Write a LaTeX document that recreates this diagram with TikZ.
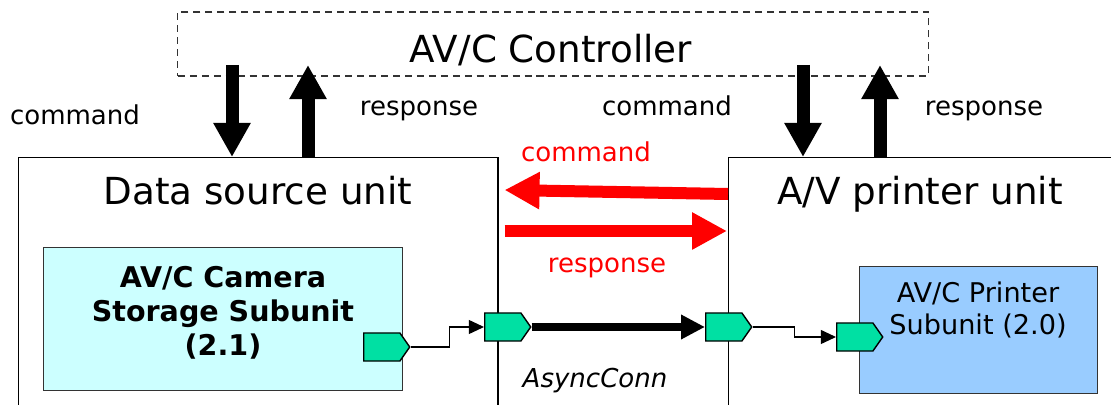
\documentclass[tikz,border=0pt]{standalone}
\usepackage{fontspec}
\setmainfont{DejaVu Sans}
\usetikzlibrary{arrows.meta,positioning,calc,shapes.symbols}

\definecolor{plugfill}{RGB}{0,224,163}
\definecolor{camfill}{RGB}{204,255,255}
\definecolor{prsfill}{RGB}{153,204,255}

\begin{document}
\begin{tikzpicture}[
    x=0.025cm, y=-0.025cm,
    unit/.style={rectangle, draw=black, line width=1pt, fill=white},
    ctrl/.style={rectangle, draw=black!80, dash pattern=on 5pt off 3.5pt,
                line width=0.8pt, minimum width=18.75cm, minimum height=1.6cm},
    subunit/.style={rectangle, draw=black!80, line width=0.8pt},
    plug/.style={signal, signal to=east, signal pointer angle=110,
                draw=black, line width=1pt, fill=plugfill,
                minimum width=1.15cm, minimum height=0.7cm, inner sep=0pt},
    big/.style={font=\fontsize{26.5}{30}\selectfont},
    lbl/.style={font=\fontsize{18.5}{22}\selectfont},
    bigarr/.style={-{Triangle[width=0.875cm, length=0.85cm]}, line width=0.325cm},
    redarr/.style={-{Triangle[width=0.875cm, length=0.875cm]}, line width=0.3cm, red},
    busarr/.style={-{Triangle[width=0.58cm, length=0.6cm]}, line width=0.2cm},
    wire/.style={-{Triangle[width=0.35cm, length=0.38cm]}, line width=0.9pt},
]
\clip (0,0) rectangle (1111,405);

% --- Controller ---
\node[ctrl] (ctrl) at (553,44) {};
\node[big, anchor=base] (ctrltext) at (551,63) {AV/C Controller};

% --- Units ---
\node[unit, minimum width=11.975cm, minimum height=7.5cm, anchor=north west] (src) at (18,157) {};
\node[unit, minimum width=9.65cm, minimum height=7.5cm, anchor=north west] (prn) at (728,157) {};
\node[big, anchor=base] (srctitle) at (258,205) {Data source unit};
\node[big, anchor=base] (prntitle) at (920,205) {A/V printer unit};

% --- Subunits ---
\node[subunit, fill=camfill, minimum width=8.975cm, minimum height=3.575cm,
      anchor=north west] (cam) at (43,247) {};
\node[anchor=base, align=center, font=\bfseries\fontsize{20.3}{24.2}\selectfont]
  (camtext) at (223,356) {AV/C Camera\\Storage Subunit\\(2.1)};
\node[subunit, fill=prsfill, minimum width=5.95cm, minimum height=3.175cm,
      anchor=north west] (prs) at (859,266) {};
\node[anchor=base, align=center, font=\fontsize{19.3}{22.8}\selectfont]
  (prstext) at (978,335) {AV/C Printer\\Subunit (2.0)};

% --- Plugs ---
\node[plug, anchor=west] (p1) at (363,347) {};
\node[plug, anchor=west] (p2) at (484,327) {};
\node[plug, anchor=west] (p3) at (705,327) {};
\node[plug, anchor=west] (p4) at (836,337) {};

\draw[wire] (p1.east) -- ++(39,0) |- (p2.west);
\draw[busarr] (p2.east) -- (p3.west);
\draw[wire] (p3.east) -- ++(42,0) |- (p4.west);
\node[lbl, anchor=base, font=\itshape\fontsize{18.5}{22}\selectfont] (async) at (595,388) {AsyncConn};

% --- Controller arrows ---
\coordinate (cmdA) at (232,65);
\coordinate (rspA) at (308,65);
\coordinate (cmdB) at (803,65);
\coordinate (rspB) at (880,65);
\draw[bigarr] (cmdA) -- (cmdA |- src.north);
\draw[bigarr] (rspA |- src.north) -- (rspA);
\draw[bigarr] (cmdB) -- (cmdB |- prn.north);
\draw[bigarr] (rspB |- prn.north) -- (rspB);

\node[lbl, anchor=base] (cmdAL) at (75,125) {command};
\node[lbl, anchor=base] (rspAL) at (419,116) {response};
\node[lbl, anchor=base] (cmdBL) at (667,116) {command};
\node[lbl, anchor=base] (rspBL) at (984,116) {response};

% --- Unit to unit ---
\draw[redarr] ($(prn.north west)+(0,37)$) -- ($(src.north east)+(6,33)$);
\draw[redarr] ($(src.north east)+(6,74)$) -- ($(prn.north west)+(-1,74)$);
\node[lbl, anchor=base, text=red] (cmdred) at (586,162) {command};
\node[lbl, anchor=base, text=red] (rspred) at (607,273) {response};

\end{tikzpicture}
\end{document}
